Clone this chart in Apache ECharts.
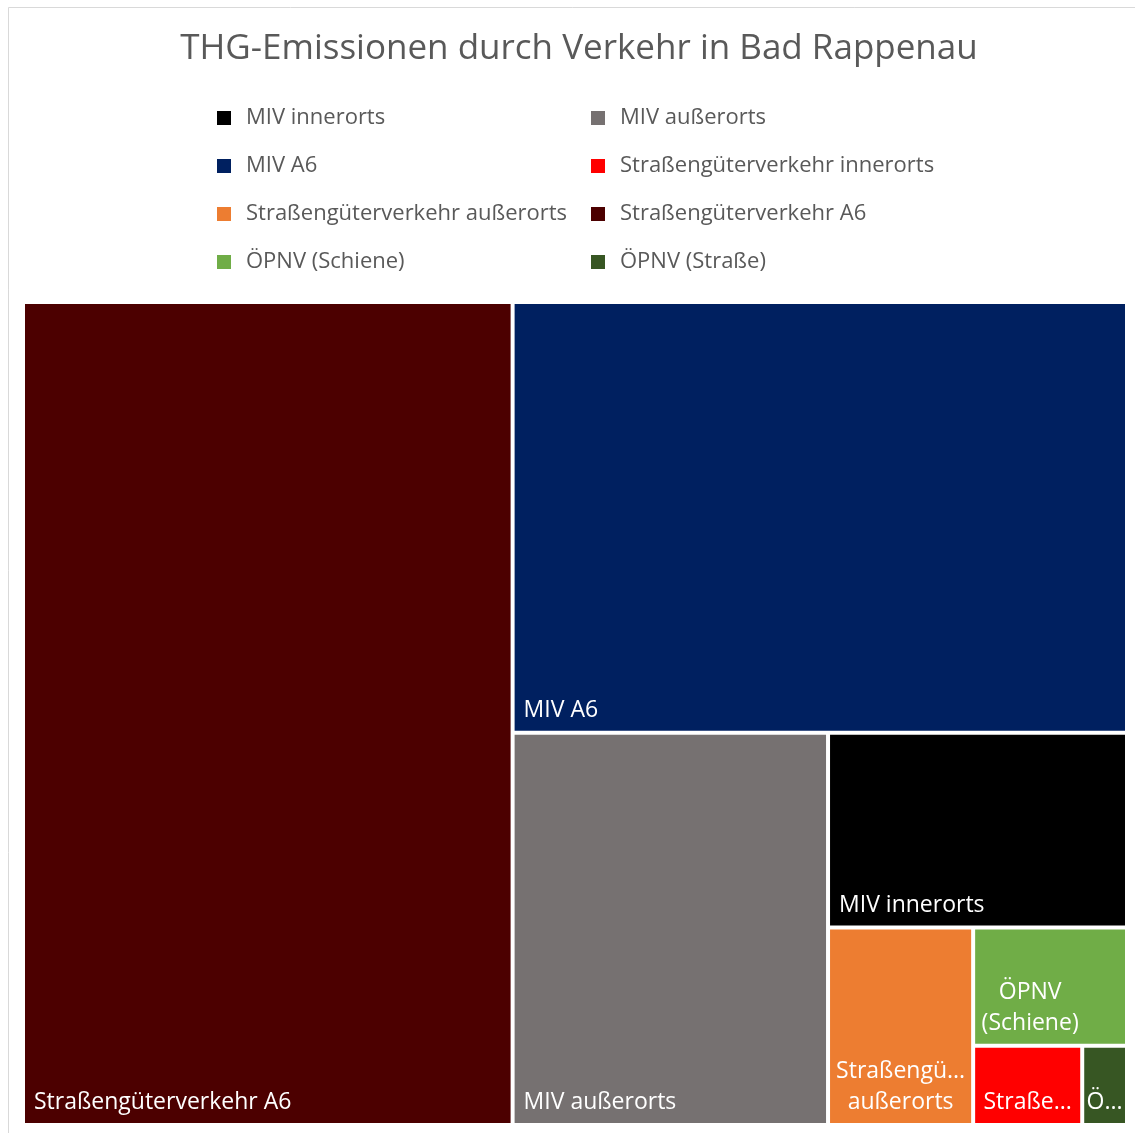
<!DOCTYPE html>
<html><head><meta charset="utf-8">
<script src="https://cdn.jsdelivr.net/npm/echarts@6/dist/echarts.min.js"></script>
<style>html,body{margin:0;padding:0;background:#fff}#c{width:1135px;height:1133px}</style>
</head><body><div id="c"></div>
<script>
// Data (estimated from the reference treemap areas)
const categories = ['MIV innerorts', 'MIV außerorts', 'MIV A6', 'Straßengüterverkehr innerorts', 'Straßengüterverkehr außerorts', 'Straßengüterverkehr A6', 'ÖPNV (Schiene)', 'ÖPNV (Straße)'];
const values = [6400, 13600, 29100, 950, 3150, 44300, 2000, 390];
const colors = ['#000000', '#767171', '#002060', '#FF0000', '#ED7D31', '#4C0000', '#70AD47', '#375623'];
const shownLabels = ['MIV innerorts', 'MIV außerorts', 'MIV A6', 'Straße...', 'Straßengü...\naußerorts', 'Straßengüterverkehr A6', 'ÖPNV\n(Schiene)', 'Ö...'];
const legendCol1 = [0, 2, 4, 6];
const legendCol2 = [1, 3, 5, 7];

const FONT = 'Open Sans';
const labelBase = { show: true, color: '#fff', fontFamily: FONT, fontSize: 23, lineHeight: 31, overflow: 'none' };
function labelFor(i) {
  const l = Object.assign({}, labelBase, { formatter: shownLabels[i] });
  if (i === 6) { l.position = [55, '100%']; l.align = 'center'; l.verticalAlign = 'bottom'; l.offset = [0, 0]; }
  else if (i === 4 || i === 3 || i === 7) { l.position = 'insideBottom'; l.distance = 0; l.align = 'center'; }
  else { l.position = 'insideBottomLeft'; l.distance = 4; l.offset = [0, 4]; }
  return l;
}
const treeData = categories.map((n, i) => ({
  name: n, value: values[i],
  itemStyle: { color: colors[i] },
  label: labelFor(i)
}));
const pieData = categories.map((n, i) => ({ name: n, value: values[i], itemStyle: { color: colors[i] } }));

const legendCommon = {
  orient: 'vertical', icon: 'rect', itemWidth: 14, itemHeight: 14, itemGap: 22, top: 100,
  selectedMode: false,
  textStyle: { fontFamily: FONT, fontSize: 22, color: '#595959', lineHeight: 26, padding: [0, 0, 0, 10] }
};

const chart = echarts.init(document.getElementById('c'), null, { renderer: 'canvas' });
chart.setOption({
  backgroundColor: '#fff',
  animation: false,
  title: {
    text: 'THG-Emissionen durch Verkehr in Bad Rappenau',
    left: 574, textAlign: 'center', top: 27,
    textStyle: { fontFamily: FONT, fontSize: 35, fontWeight: 'normal', color: '#595959' }
  },
  legend: [
    Object.assign({}, legendCommon, { left: 212, data: legendCol1.map(i => categories[i]) }),
    Object.assign({}, legendCommon, { left: 586, data: legendCol2.map(i => categories[i]) })
  ],
  graphic: [{
    type: 'rect', silent: true, z: -1,
    shape: { x: 8.5, y: 7.5, width: 1140, height: 1140 },
    style: { fill: 'none', stroke: '#d9d9d9', lineWidth: 1 }
  }],
  series: [
    {
      type: 'pie', radius: [0, 0], center: [-100, -100], silent: true,
      label: { show: false }, labelLine: { show: false },
      data: pieData
    },
    {
      type: 'treemap',
      left: 25, top: 304, width: 1100, height: 819,
      squareRatio: 1,
      roam: false, nodeClick: false,
      breadcrumb: { show: false },
      itemStyle: { borderWidth: 0, gapWidth: 4, borderColor: '#fff' },
      levels: [
        { itemStyle: { borderWidth: 0, gapWidth: 4, borderColor: '#fff' } },
        { itemStyle: { borderWidth: 0, gapWidth: 4, borderColor: '#fff' } }
      ],
      emphasis: { disabled: true },
      data: treeData
    }
  ]
});
</script></body></html>
